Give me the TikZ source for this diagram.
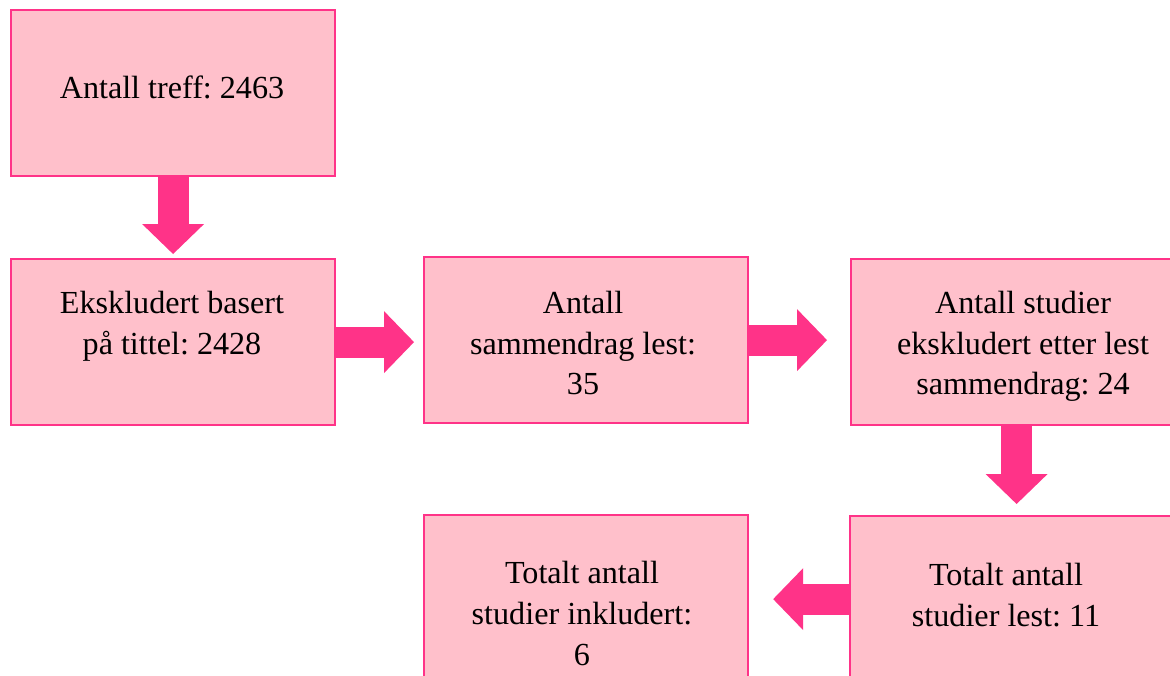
\documentclass[tikz,border=0pt]{standalone}
\usepackage{fontspec}
\setmainfont{Liberation Serif}
\usetikzlibrary{arrows.meta}
\definecolor{boxfill}{RGB}{255,192,203}
\definecolor{hot}{RGB}{255,51,136}
\frenchspacing
\begin{document}
\begin{tikzpicture}[x=0.02cm,y=-0.02cm,
  box/.style={draw=hot, fill=boxfill, line width=0.045cm, minimum width=6.48cm, minimum height=3.32cm, inner sep=0pt, anchor=north west},
  txt/.style={anchor=north, align=center, inner sep=0pt, font=\fontsize{18.3}{23.25}\selectfont\frenchspacing, text=black},
  blk/.style={draw=hot, line width=0.62cm, -{Triangle[width=1.24cm,length=0.6cm,line width=0pt]}}]
\useasboundingbox (0,0) rectangle (1170,676);
\clip (0,0) rectangle (1170,676);
% boxes
\node[box] (a) at (10,9) {};
\node[box] (b) at (10,258) {};
\node[box] (c) at (423,256) {};
\node[box] (d) at (850,258) {};
\node[box] (e) at (849,515) {};
\node[box] (f) at (423,514) {};
% texts
\node[txt] (ta) at (172,69.3) {\strut Antall treff: 2463};
\node[txt] (tb) at (172,284.3) {\strut Ekskludert basert\\på tittel: 2428};
\node[txt] (tc) at (583,284.3) {\strut Antall\\sammendrag lest:\\35};
\node[txt] (td) at (1023,284.3) {\strut Antall studier\\ekskludert etter lest\\sammendrag: 24};
\node[txt] (te) at (1006,556.5) {\strut Totalt antall\\studier lest: 11};
\node[txt] (tf) at (582,554.5) {\strut Totalt antall\\studier inkludert:\\6};
% arrows
\draw[blk, shorten >=0.08cm] (a.south) -- (b.north);
\draw[blk, shorten >=0.18cm] (b.east) -- (b.east -| c.west);
\draw[blk, shorten >=0.46cm] (c.east) -- (c.east -| d.west);
\draw[blk, shorten >=0.22cm] ([xshift=0.07cm]d.south) -- ([xshift=0.07cm]d.south |- e.north);
\draw[blk, shorten >=0.48cm] (e.west) -- (e.west -| f.east);
\end{tikzpicture}
\end{document}
